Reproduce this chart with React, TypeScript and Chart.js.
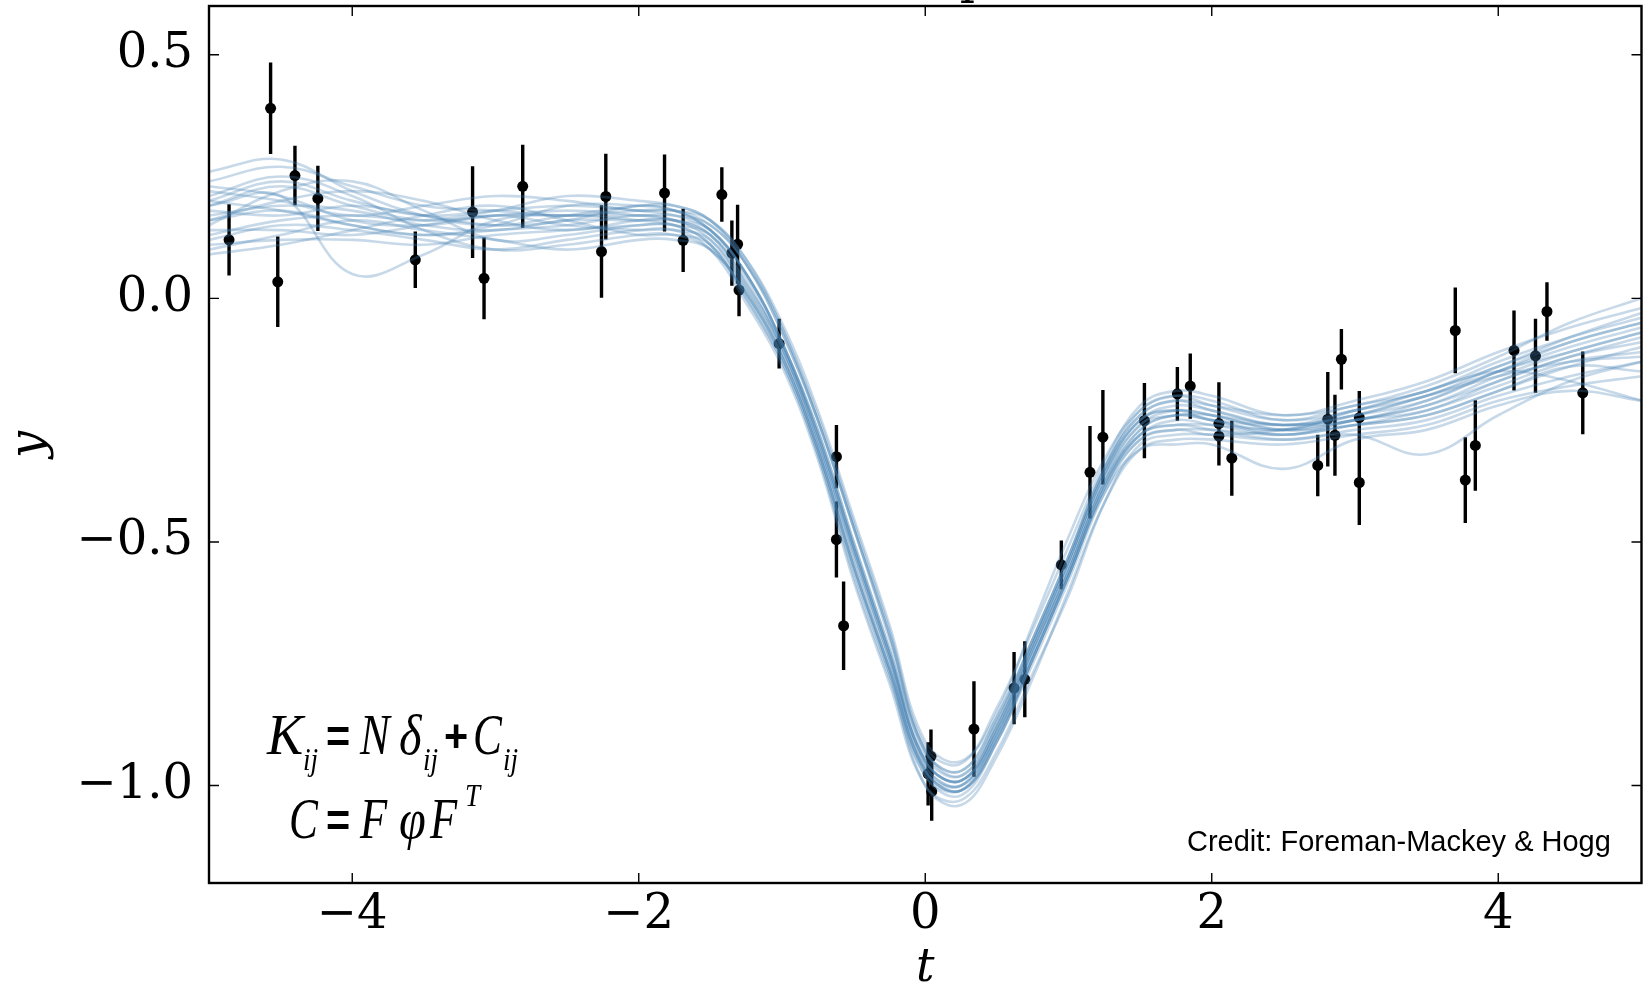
import React, { useEffect, useRef } from "react";
import { Chart, registerables } from "chart.js";

Chart.register(...registerables);

// ---- data -------------------------------------------------------------
const T_GRID = [-5, -4.5, -4, -3.5, -3, -2.5, -2, -1.75, -1.5, -1.25, -1, -0.75, -0.5, -0.25, 0, 0.25, 0.5, 0.75, 1, 1.25, 1.5, 1.75, 2, 2.5, 3, 3.5, 4, 4.5, 5];

const SAMPLE_01 = [0.20, 0.24, 0.20, 0.17, 0.18, 0.19, 0.18, 0.17, 0.14, 0.05, -0.09, -0.27, -0.50, -0.72, -0.94, -0.98, -0.87, -0.71, -0.54, -0.36, -0.25, -0.22, -0.23, -0.26, -0.24, -0.20, -0.15, -0.10, -0.06];
const SAMPLE_02 = [0.16, 0.18, 0.15, 0.13, 0.14, 0.15, 0.17, 0.16, 0.12, 0.02, -0.11, -0.30, -0.54, -0.76, -0.97, -1.00, -0.89, -0.73, -0.56, -0.38, -0.27, -0.24, -0.25, -0.28, -0.25, -0.23, -0.17, -0.12, -0.09];
const SAMPLE_03 = [0.26, 0.285, 0.22, 0.17, 0.15, 0.17, 0.19, 0.19, 0.16, 0.08, -0.05, -0.23, -0.45, -0.67, -0.91, -0.95, -0.85, -0.67, -0.49, -0.33, -0.23, -0.20, -0.21, -0.25, -0.22, -0.19, -0.13, -0.08, -0.04];
const SAMPLE_04 = [0.19, 0.21, 0.05, 0.09, 0.16, 0.17, 0.16, 0.15, 0.11, 0.00, -0.13, -0.32, -0.57, -0.78, -0.98, -1.01, -0.90, -0.74, -0.57, -0.39, -0.28, -0.26, -0.26, -0.27, -0.25, -0.22, -0.16, -0.11, -0.07];
const SAMPLE_05 = [0.12, 0.15, 0.14, 0.12, 0.10, 0.12, 0.14, 0.14, 0.10, -0.01, -0.14, -0.33, -0.58, -0.79, -1.00, -1.03, -0.93, -0.77, -0.61, -0.42, -0.30, -0.28, -0.28, -0.29, -0.27, -0.25, -0.20, -0.16, -0.13];
const SAMPLE_06 = [0.10, 0.13, 0.16, 0.14, 0.12, 0.10, 0.12, 0.12, 0.10, 0.01, -0.12, -0.31, -0.55, -0.77, -1.00, -1.04, -0.94, -0.78, -0.60, -0.42, -0.31, -0.29, -0.29, -0.30, -0.28, -0.26, -0.21, -0.18, -0.16];
const SAMPLE_07 = [0.22, 0.20, 0.17, 0.19, 0.21, 0.20, 0.18, 0.18, 0.16, 0.08, -0.06, -0.24, -0.46, -0.68, -0.92, -0.955, -0.84, -0.68, -0.51, -0.34, -0.22, -0.19, -0.20, -0.24, -0.21, -0.17, -0.11, -0.06, -0.02];
const SAMPLE_08 = [0.18, 0.17, 0.19, 0.17, 0.15, 0.16, 0.19, 0.18, 0.14, 0.05, -0.09, -0.28, -0.51, -0.73, -0.95, -0.99, -0.88, -0.72, -0.55, -0.37, -0.26, -0.23, -0.24, -0.27, -0.26, -0.24, -0.19, -0.14, -0.10];
const SAMPLE_09 = [0.15, 0.22, 0.24, 0.18, 0.12, 0.13, 0.15, 0.15, 0.13, 0.04, -0.10, -0.28, -0.51, -0.73, -0.95, -0.99, -0.89, -0.72, -0.55, -0.37, -0.26, -0.24, -0.24, -0.26, -0.24, -0.21, -0.15, -0.09, -0.05];
const SAMPLE_10 = [0.13, 0.16, 0.17, 0.16, 0.18, 0.21, 0.20, 0.19, 0.16, 0.07, -0.07, -0.25, -0.47, -0.70, -0.93, -0.97, -0.86, -0.70, -0.53, -0.35, -0.24, -0.21, -0.23, -0.26, -0.23, -0.20, -0.14, -0.09, -0.05];
const SAMPLE_11 = [0.21, 0.25, 0.21, 0.14, 0.10, 0.11, 0.13, 0.13, 0.10, 0.01, -0.12, -0.31, -0.55, -0.76, -0.97, -1.01, -0.91, -0.74, -0.57, -0.39, -0.29, -0.27, -0.27, -0.28, -0.26, -0.23, -0.18, -0.13, -0.11];
const SAMPLE_12 = [0.17, 0.19, 0.18, 0.15, 0.14, 0.16, 0.16, 0.16, 0.14, 0.05, -0.09, -0.27, -0.50, -0.72, -0.95, -0.99, -0.88, -0.71, -0.54, -0.36, -0.25, -0.23, -0.24, -0.27, -0.25, -0.22, -0.17, -0.12, -0.08];
const SAMPLE_13 = [0.19, 0.23, 0.19, 0.16, 0.17, 0.18, 0.17, 0.16, 0.13, 0.03, -0.10, -0.29, -0.52, -0.74, -0.96, -1.00, -0.90, -0.74, -0.57, -0.40, -0.31, -0.30, -0.30, -0.35, -0.29, -0.27, -0.22, -0.19, -0.21];
const SAMPLE_14 = [0.14, 0.14, 0.13, 0.15, 0.17, 0.15, 0.14, 0.14, 0.12, 0.02, -0.11, -0.30, -0.53, -0.75, -0.97, -1.01, -0.91, -0.74, -0.57, -0.39, -0.28, -0.26, -0.27, -0.29, -0.28, -0.32, -0.24, -0.17, -0.13];
const SAMPLE_15 = [0.24, 0.27, 0.23, 0.19, 0.18, 0.17, 0.18, 0.18, 0.15, 0.07, -0.07, -0.25, -0.47, -0.69, -0.93, -0.98, -0.87, -0.70, -0.53, -0.35, -0.24, -0.21, -0.22, -0.24, -0.22, -0.18, -0.12, -0.05, 0.00];
const SAMPLE_16 = [0.11, 0.12, 0.12, 0.11, 0.13, 0.14, 0.15, 0.15, 0.11, 0.00, -0.13, -0.32, -0.56, -0.77, -0.98, -1.02, -0.91, -0.75, -0.58, -0.40, -0.29, -0.27, -0.28, -0.27, -0.24, -0.20, -0.16, -0.13, -0.12];
const SAMPLE_17 = [0.20, 0.18, 0.15, 0.13, 0.15, 0.19, 0.19, 0.18, 0.14, 0.05, -0.09, -0.28, -0.51, -0.73, -0.95, -0.99, -0.88, -0.71, -0.54, -0.36, -0.25, -0.23, -0.25, -0.27, -0.23, -0.19, -0.15, -0.17, -0.21];
const SAMPLE_18 = [0.16, 0.20, 0.22, 0.20, 0.16, 0.14, 0.16, 0.16, 0.13, 0.03, -0.10, -0.29, -0.52, -0.74, -0.96, -1.00, -0.89, -0.72, -0.56, -0.38, -0.27, -0.24, -0.25, -0.26, -0.25, -0.21, -0.15, -0.11, -0.07];
const SAMPLE_19 = [0.09, 0.11, 0.14, 0.17, 0.19, 0.16, 0.13, 0.13, 0.11, 0.01, -0.12, -0.31, -0.55, -0.76, -0.97, -1.01, -0.90, -0.73, -0.56, -0.38, -0.28, -0.25, -0.26, -0.28, -0.26, -0.24, -0.19, -0.14, -0.15];
const SAMPLE_20 = [0.23, 0.21, 0.16, 0.15, 0.17, 0.17, 0.17, 0.17, 0.15, 0.07, -0.06, -0.25, -0.47, -0.69, -0.93, -0.97, -0.86, -0.70, -0.53, -0.35, -0.23, -0.20, -0.22, -0.25, -0.23, -0.19, -0.14, -0.08, -0.03];

const SAMPLES = [
  SAMPLE_01, SAMPLE_02, SAMPLE_03, SAMPLE_04, SAMPLE_05, SAMPLE_06, SAMPLE_07, SAMPLE_08, SAMPLE_09, SAMPLE_10,
  SAMPLE_11, SAMPLE_12, SAMPLE_13, SAMPLE_14, SAMPLE_15, SAMPLE_16, SAMPLE_17, SAMPLE_18, SAMPLE_19, SAMPLE_20,
];

const T_OBS = [-4.86, -4.57, -4.52, -4.40, -4.24, -3.56, -3.16, -3.08, -2.81, -2.26, -2.23, -1.82, -1.69, -1.42, -1.35, -1.31, -1.30, -1.02, -0.62, -0.62, -0.57, 0.04, 0.02, 0.045, 0.34, 0.62, 0.695, 0.95, 1.15, 1.24, 1.53, 1.76, 1.85, 2.05, 2.05, 2.14, 2.74, 2.81, 2.86, 2.905, 3.03, 3.03, 3.70, 3.77, 3.84, 4.11, 4.26, 4.34, 4.59];
const Y_OBS = [0.12, 0.39, 0.034, 0.252, 0.205, 0.079, 0.177, 0.041, 0.23, 0.096, 0.209, 0.216, 0.119, 0.213, 0.093, 0.111, 0.017, -0.093, -0.325, -0.495, -0.672, -0.94, -0.976, -1.012, -0.884, -0.80, -0.782, -0.547, -0.357, -0.285, -0.251, -0.196, -0.18, -0.257, -0.283, -0.328, -0.343, -0.248, -0.281, -0.125, -0.245, -0.378, -0.066, -0.373, -0.302, -0.107, -0.118, -0.027, -0.194];
const Y_ERR = [0.073, 0.094, 0.093, 0.061, 0.067, 0.058, 0.094, 0.084, 0.085, 0.095, 0.088, 0.079, 0.065, 0.056, 0.067, 0.081, 0.054, 0.051, 0.065, 0.078, 0.091, 0.055, 0.065, 0.06, 0.098, 0.074, 0.078, 0.05, 0.095, 0.097, 0.077, 0.055, 0.067, 0.085, 0.06, 0.077, 0.063, 0.097, 0.083, 0.062, 0.055, 0.087, 0.088, 0.088, 0.093, 0.082, 0.076, 0.06, 0.085];

const X_TICKS = [-4, -2, 0, 2, 4];
const X_TICK_LABELS = ["\u22124", "\u22122", "0", "2", "4"];
const Y_TICKS = [0.5, 0, -0.5, -1];
const Y_TICK_LABELS = ["0.5", "0.0", "\u22120.5", "\u22121.0"];

const X_RANGE = [-5, 5];
const Y_RANGE = [-1.2, 0.6];

// ---- plugins ------------------------------------------------------------
const framePlugin = {
  id: "frame",
  afterDatasetsDraw(chart: any) {
    const { ctx, chartArea: a, scales } = chart;
    const tl = 10;
    ctx.save();
    ctx.strokeStyle = "#000";
    ctx.lineWidth = 1.4;
    ctx.beginPath();
    X_TICKS.forEach((v) => {
      const px = scales.x.getPixelForValue(v);
      ctx.moveTo(px, a.bottom);
      ctx.lineTo(px, a.bottom - tl);
      ctx.moveTo(px, a.top);
      ctx.lineTo(px, a.top + tl);
    });
    Y_TICKS.forEach((v) => {
      const py = scales.y.getPixelForValue(v);
      ctx.moveTo(a.left, py);
      ctx.lineTo(a.left + tl, py);
      ctx.moveTo(a.right, py);
      ctx.lineTo(a.right - tl, py);
    });
    ctx.stroke();
    ctx.lineWidth = 2.4;
    ctx.strokeRect(a.left, a.top, a.right - a.left, a.bottom - a.top);
    ctx.restore();
  },
};

type Piece = { text: string; x: number; y: number; font: string; sx: number };
const F_MAIN = 'italic 57px "Liberation Serif"';
const F_SUB = 'italic 32px "Liberation Serif"';
const F_OP = 'bold 46px "Liberation Sans"';
const FORMULA: Piece[] = [
  { text: "K", x: 267, y: 754, font: F_MAIN, sx: 0.95 },
  { text: "ij", x: 303, y: 770, font: F_SUB, sx: 0.85 },
  { text: "=", x: 326, y: 752, font: F_OP, sx: 0.9 },
  { text: "N", x: 360, y: 754, font: F_MAIN, sx: 0.78 },
  { text: "\u03b4", x: 399, y: 754, font: F_MAIN, sx: 0.85 },
  { text: "ij", x: 423, y: 770, font: F_SUB, sx: 0.85 },
  { text: "+", x: 444, y: 752, font: F_OP, sx: 0.9 },
  { text: "C", x: 473, y: 754, font: F_MAIN, sx: 0.76 },
  { text: "ij", x: 503, y: 770, font: F_SUB, sx: 0.85 },
  { text: "C", x: 289, y: 838, font: F_MAIN, sx: 0.76 },
  { text: "=", x: 326, y: 836, font: F_OP, sx: 0.9 },
  { text: "F", x: 360, y: 838, font: F_MAIN, sx: 0.78 },
  { text: "\u03c6", x: 399, y: 838, font: F_MAIN, sx: 0.85 },
  { text: "F", x: 430, y: 838, font: F_MAIN, sx: 0.78 },
  { text: "T", x: 465, y: 806, font: F_SUB, sx: 0.85 },
];

const textPlugin = {
  id: "texts",
  afterDraw(chart: any) {
    const { ctx } = chart;
    ctx.save();
    ctx.fillStyle = "#000";
    ctx.textAlign = "left";
    ctx.textBaseline = "alphabetic";
    FORMULA.forEach((p) => {
      ctx.save();
      ctx.translate(p.x, p.y);
      ctx.scale(p.sx, 1);
      ctx.font = p.font;
      ctx.fillText(p.text, 0, 0);
      ctx.restore();
    });
    ctx.font = '29px "Liberation Sans"';
    ctx.fillText("Credit: Foreman-Mackey & Hogg", 1187, 851);
    // bottom of the (cropped) title above the frame
    ctx.font = '48px "DejaVu Serif"';
    ctx.textAlign = "center";
    ctx.fillText("p", 975, -7);
    ctx.restore();
  },
};

// ---- component --------------------------------------------------------
export default function App() {
  const ref = useRef<HTMLCanvasElement | null>(null);

  useEffect(() => {
    if (!ref.current) return;
    const curveSets = SAMPLES.map((s) => ({
      type: "line" as const,
      data: T_GRID.map((t, i) => ({ x: t, y: s[i] })),
      borderColor: "rgba(70,130,180,0.3)",
      borderWidth: 2.6,
      pointRadius: 0,
      tension: 0.4,
      fill: false,
    }));
    const errData: any[] = [];
    T_OBS.forEach((t, i) => {
      errData.push({ x: t, y: Y_OBS[i] - Y_ERR[i] });
      errData.push({ x: t, y: Y_OBS[i] + Y_ERR[i] });
      errData.push({ x: t, y: null });
    });
    const errSet = {
      type: "line" as const,
      data: errData,
      borderColor: "#000",
      borderWidth: 3.4,
      pointRadius: 0,
      spanGaps: false,
      tension: 0,
      fill: false,
    };
    const pointSet = {
      type: "scatter" as const,
      data: T_OBS.map((t, i) => ({ x: t, y: Y_OBS[i] })),
      backgroundColor: "#000",
      borderWidth: 0,
      pointRadius: 5.5,
    };

    const tickFont = { family: '"DejaVu Serif"', size: 48 };
    const chart = new Chart(ref.current, {
      type: "line",
      data: { datasets: [...curveSets, errSet, pointSet] as any },
      options: {
        animation: false,
        responsive: false,
        events: [],
        layout: { padding: { top: 6, right: 1, left: 0, bottom: 0 } },
        plugins: { legend: { display: false }, tooltip: { enabled: false } },
        scales: {
          x: {
            type: "linear",
            min: X_RANGE[0],
            max: X_RANGE[1],
            grid: { display: false, drawTicks: false },
            border: { display: false },
            afterBuildTicks: (s: any) => {
              s.ticks = X_TICKS.map((v) => ({ value: v }));
            },
            afterFit: (s: any) => {
              s.height = 104;
              s.paddingLeft = 0;
              s.paddingRight = 0;
            },
            ticks: {
              color: "#000",
              font: tickFont,
              padding: 4,
              maxRotation: 0,
              autoSkip: false,
              callback: (_v: any, i: number) => X_TICK_LABELS[i],
            },
            title: {
              display: true,
              text: "t",
              color: "#000",
              font: { family: '"DejaVu Serif"', style: "italic", size: 46, lineHeight: 0.8 },
              padding: 0,
            },
          },
          y: {
            type: "linear",
            min: Y_RANGE[0],
            max: Y_RANGE[1],
            grid: { display: false, drawTicks: false },
            border: { display: false },
            afterBuildTicks: (s: any) => {
              s.ticks = Y_TICKS.map((v) => ({ value: v }));
            },
            afterFit: (s: any) => {
              s.width = 209;
              s.paddingTop = 0;
              s.paddingBottom = 0;
            },
            ticks: {
              color: "#000",
              font: tickFont,
              padding: 16,
              autoSkip: false,
              callback: (_v: any, i: number) => Y_TICK_LABELS[i],
            },
            title: {
              display: true,
              text: "y",
              color: "#000",
              font: { family: '"DejaVu Serif"', style: "italic", size: 48, lineHeight: 0.9 },
              padding: { top: 9, bottom: 0 },
            },
          },
        },
      },
      plugins: [framePlugin, textPlugin],
    });
    return () => chart.destroy();
  }, []);

  return (
    <div style={{ position: "fixed", left: 0, top: 0, width: 1647, height: 987, background: "#fff" }}>
      <canvas ref={ref} width={1647} height={987} style={{ display: "block", width: 1647, height: 987 }} />
    </div>
  );
}
